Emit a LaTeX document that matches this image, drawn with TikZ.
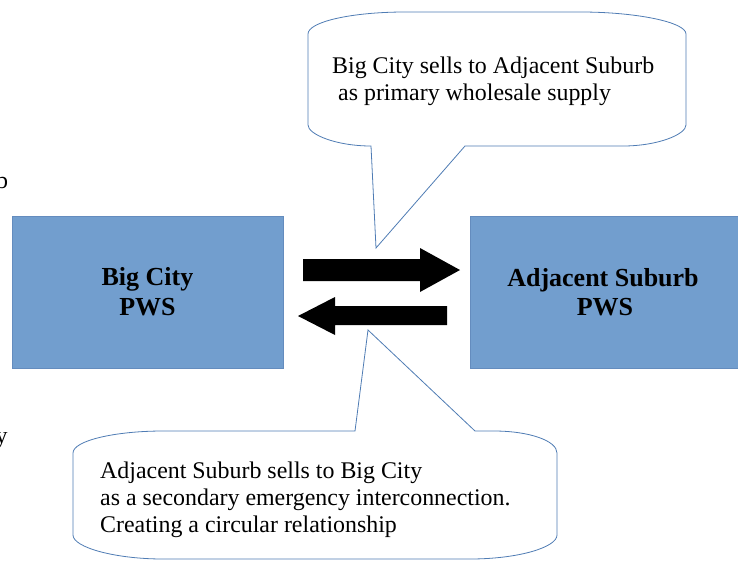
\documentclass[tikz,border=0pt]{standalone}
\usepackage{fontspec}
\setmainfont{Liberation Serif}
\definecolor{boxfill}{RGB}{114,158,206}
\definecolor{boxedge}{RGB}{100,140,190}
\definecolor{calloutline}{RGB}{79,124,180}
\begin{document}
\begin{tikzpicture}[x=1pt,y=-1pt,
  pws/.style={draw=boxedge, fill=boxfill, line width=0.8pt, inner sep=0pt},
  callout/.style={draw=calloutline, line width=0.8pt, fill=white, line join=miter},
  blockarrow/.style={fill=black},
  lbl/.style={font=\fontsize{23.9}{27}\selectfont, anchor=base west, inner sep=0pt},
  boxlbl/.style={font=\bfseries\fontsize{26}{30}\selectfont, anchor=base, inner sep=0pt}]
\useasboundingbox (0,0) rectangle (738,560);
% boxes
\node[pws, minimum width=271pt, minimum height=152pt, anchor=north west] (city) at (12,216) {};
\node[pws, minimum width=290pt, minimum height=152pt, anchor=north west] (suburb) at (470,216) {};
\node[boxlbl] (cityA) at (147.5,285) {Big City};
\node[boxlbl] (cityB) at (147.5,315) {PWS};
\node[boxlbl] (subA) at (603,286) {Adjacent Suburb};
\node[boxlbl] (subB) at (605,315) {PWS};
% block arrows
\coordinate (rtail) at (303,270);
\coordinate (rtip) at (460,270);
\coordinate (ltail) at (447,316);
\coordinate (ltip) at (298,316);
\fill[blockarrow] (rtail) ++(0,-11) -- (420,259) -- (420,248) -- (rtip) -- (420,292) -- (420,281) -- (303,281) -- cycle;
\fill[blockarrow] (ltail) ++(0,-10) -- (335,306) -- (335,297) -- (ltip) -- (335,335) -- (335,325) -- (447,325) -- cycle;
% top callout
\coordinate (toptip) at (376,248);
\draw[callout] (465,146) -- (623,146)
  .. controls (657.8,146) and (686,134.4) .. (686,125)
  -- (686,34)
  .. controls (686,21.8) and (634.5,12) .. (581,12)
  -- (405,12)
  .. controls (351.5,12) and (308,21.8) .. (308,34)
  -- (308,125)
  .. controls (308,134.4) and (336.2,146) .. (371,146)
  -- (toptip) -- cycle;
\node[lbl] (topA) at (332,73) {Big City sells to Adjacent Suburb};
\node[lbl] (topB) at (338,100) {as primary wholesale supply};
% bottom callout
\coordinate (bottip) at (368,330);
\draw[callout] (355,431) -- (163,431)
  .. controls (115,431) and (73,440.6) .. (73,453)
  -- (73,535)
  .. controls (73,547.4) and (115,559) .. (163,559)
  -- (470,559)
  .. controls (518,559) and (557,547.4) .. (557,535)
  -- (557,453)
  .. controls (557,440.6) and (528.8,431) .. (494,431)
  -- (475,431) -- (bottip) -- cycle;
\node[lbl] (botA) at (100,478) {Adjacent Suburb sells to Big City};
\node[lbl] (botB) at (100,505) {as a secondary emergency interconnection.};
\node[lbl] (botC) at (100,532) {Creating a circular relationship};
% cut-off letters at the left edge
\node[lbl] (strayb) at (-4,188) {b};
\node[lbl] (strayy) at (-4.5,443) {y};
\end{tikzpicture}
\end{document}
